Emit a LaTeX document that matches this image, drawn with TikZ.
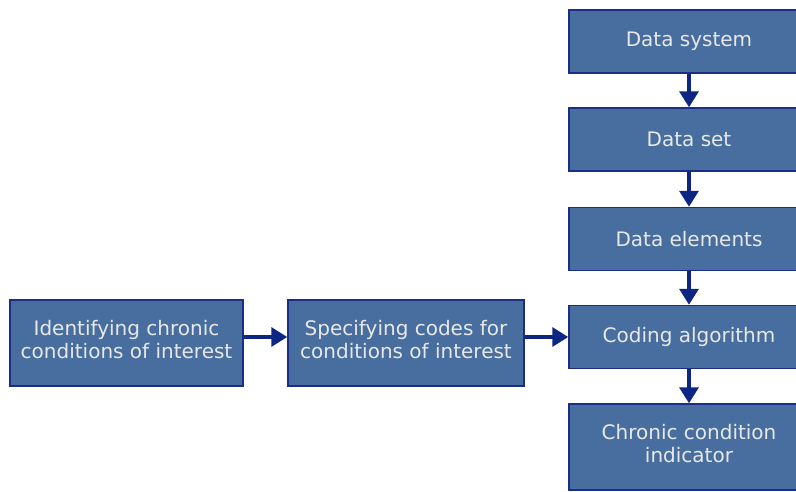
\documentclass[tikz,border=0pt]{standalone}
\usepackage{fontspec}
\setmainfont{DejaVu Sans}
\usepackage{xcolor}
\usepackage{tikz}
\usetikzlibrary{arrows.meta}
\definecolor{boxfill}{HTML}{476E9E}
\definecolor{boxline}{HTML}{1C2D86}
\definecolor{arrowblue}{HTML}{0D2583}
\definecolor{boxtext}{HTML}{E8E8E8}
\tikzset{
	flowbox/.style = {draw = boxline, line width = 1.5pt, fill = boxfill, text = boxtext, align = center, inner sep = 0pt, font = \fontsize{20}{23}\selectfont},
	flowarrow/.style = {arrowblue, line width = 3.5pt, -{Triangle[width=19pt,length=16pt]}}
}
\begin{document}
\begin{tikzpicture}[x = 1pt, y = -1pt]
				\useasboundingbox (0,0) rectangle (796,491);
				\clip (0,0) rectangle (796,491);
				\node[flowbox, minimum width = 240pt, minimum height = 63pt] (sys) at (689,41.5) {Data system};
				\node[flowbox, minimum width = 240pt, minimum height = 63pt] (set) at (689,139.5) {Data set};
				\node[flowbox, minimum width = 240pt, minimum height = 63pt] (elem) at (689,239) {Data elements};
				\node[flowbox, minimum width = 240pt, minimum height = 63pt] (coding) at (689,337) {Coding algorithm};
				\node[flowbox, minimum width = 240pt, minimum height = 86pt, text depth = 8pt] (indic) at (689,447) {Chronic condition\\indicator};
				\node[flowbox, minimum width = 233pt, minimum height = 86pt, text depth = 8pt] (ident) at (126.5,343) {Identifying chronic\\conditions of interest};
				\node[flowbox, minimum width = 236pt, minimum height = 86pt, text depth = 8pt] (spec) at (406,343) {Specifying codes for\\conditions of interest};
				\draw[flowarrow] (sys) -- (set);
				\draw[flowarrow] (set) -- (elem);
				\draw[flowarrow] (elem) -- (coding);
				\draw[flowarrow] (coding) -- (indic);
				\draw[flowarrow] (ident.east |- coding.west) -- (spec.west |- coding.west);
				\draw[flowarrow] (spec.east |- coding.west) -- (coding.west);
\end{tikzpicture}
\end{document}
